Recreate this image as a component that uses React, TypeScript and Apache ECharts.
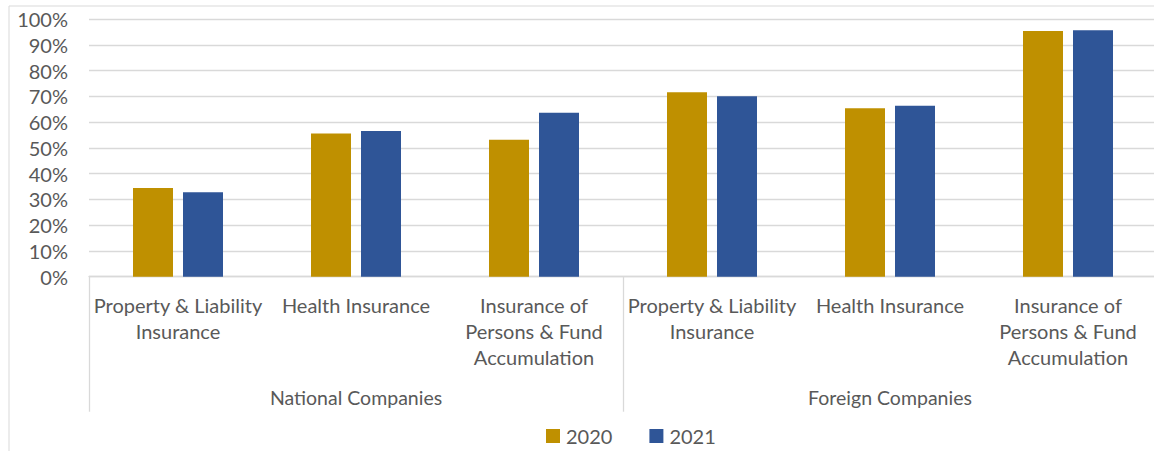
import React, { useEffect, useRef } from "react";
import * as echarts from "echarts";

const categories = [
  "Property & Liability\nInsurance",
  "Health Insurance",
  "Insurance of\nPersons & Fund\nAccumulation",
  "Property & Liability\nInsurance",
  "Health Insurance",
  "Insurance of\nPersons & Fund\nAccumulation",
];
const groups = ["National Companies", "Foreign Companies"];
const values2020 = [34.4, 55.6, 53.1, 71.6, 65.4, 95.3];
const values2021 = [32.8, 56.5, 63.6, 70.0, 66.3, 95.6];
const seriesNames = ["2020", "2021"];

const FONT = "Lato";
const TEXT = "#595959";
const GRID = "#d9d9d9";

export default function App() {
  const ref = useRef<HTMLDivElement>(null);
  useEffect(() => {
    document.body.style.margin = "0";
    const chart = echarts.init(ref.current!, undefined, { renderer: "svg" });
    chart.setOption({
      animation: false,
      textStyle: { fontFamily: FONT },
      grid: { left: 89, right: 3, top: 19, bottom: 174.3 },
      legend: {
        left: 546,
        top: 426,
        padding: 0,
        itemWidth: 14,
        itemHeight: 14,
        itemGap: 37,
        icon: "rect",
        textStyle: { fontFamily: FONT, fontSize: 20, color: TEXT, padding: [0, 0, 0, 1] },
        data: seriesNames,
      },
      xAxis: [
        {
          type: "category",
          data: categories,
          position: "bottom",
          axisLine: { show: true, lineStyle: { color: GRID, width: 1.3 } },
          axisTick: { show: false },
          axisLabel: {
            interval: 0,
            margin: 15,
            fontFamily: FONT,
            fontSize: 20,
            lineHeight: 26,
            color: TEXT,
            align: "center",
          },
        },
        {
          type: "category",
          data: groups,
          position: "bottom",
          axisLine: { show: false },
          axisTick: {
            show: true,
            interval: 0,
            length: 135,
            lineStyle: { color: GRID, width: 1.3 },
          },
          axisLabel: {
            interval: 0,
            margin: 111,
            fontFamily: FONT,
            fontSize: 19.5,
            color: TEXT,
          },
        },
      ],
      yAxis: {
        type: "value",
        min: 0,
        max: 100,
        interval: 10,
        axisLine: { show: false },
        axisTick: { show: false },
        splitLine: { lineStyle: { color: GRID, width: 1.3 } },
        axisLabel: {
          formatter: "{value}%",
          margin: 21,
          fontFamily: FONT,
          fontSize: 20,
          color: TEXT,
        },
      },
      series: [
        {
          name: seriesNames[0],
          type: "bar",
          xAxisIndex: 0,
          data: values2020,
          barWidth: 40,
          barGap: "25%",
          itemStyle: { color: "#BF9000" },
        },
        {
          name: seriesNames[1],
          type: "bar",
          xAxisIndex: 0,
          data: values2021,
          barWidth: 40,
          barGap: "25%",
          itemStyle: { color: "#2F5597" },
        },
      ],
      graphic: [
        {
          type: "rect",
          shape: { x: 9, y: 6, width: 1200, height: 500 },
          style: { fill: "none", stroke: GRID, lineWidth: 1 },
          silent: true,
          z: -10,
        },
      ],
    });
    return () => chart.dispose();
  }, []);
  return (
    <div style={{ position: "absolute", left: 0, top: 0, width: 1154, height: 451, overflow: "hidden" }}>
      <div ref={ref} style={{ width: 1160, height: 451 }} />
    </div>
  );
}
